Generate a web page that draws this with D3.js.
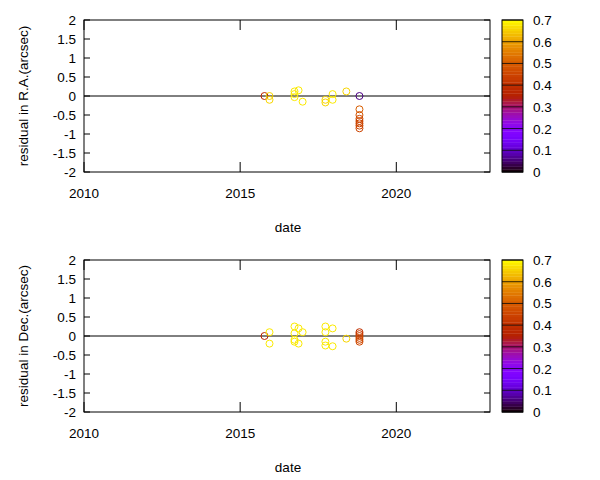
<!DOCTYPE html>
<html><head><meta charset="utf-8">
<script src="https://cdn.jsdelivr.net/npm/d3@7"></script>
<style>body{margin:0;background:#fff}text{font-family:"Liberation Sans",Arial,sans-serif;font-size:13.5px}</style>
</head><body>
<script>
// observations: decimal year, residual (arcsec), colour value
var raDates = [2015.78, 2015.94, 2015.94, 2016.74, 2016.87, 2016.74, 2016.74, 2017.0, 2017.73, 2017.73, 2017.96, 2017.96, 2018.4, 2018.82, 2018.82, 2018.82, 2018.82, 2018.82, 2018.82, 2018.82, 2018.82];
var raResid = [0, 0, -0.1, 0.12, 0.15, 0.05, -0.03, -0.15, -0.1, -0.17, 0.05, -0.1, 0.12, 0, -0.35, -0.5, -0.6, -0.66, -0.72, -0.78, -0.85];
var raColor = [0.38, 0.66, 0.66, 0.68, 0.68, 0.68, 0.68, 0.68, 0.66, 0.66, 0.68, 0.68, 0.66, 0.06, 0.5, 0.48, 0.46, 0.45, 0.45, 0.45, 0.45];

var decDates = [2015.78, 2015.94, 2015.94, 2016.74, 2016.87, 2017.0, 2016.74, 2016.74, 2016.74, 2016.87, 2017.73, 2017.73, 2017.96, 2017.73, 2017.73, 2017.96, 2018.4, 2018.82, 2018.82, 2018.82, 2018.82, 2018.82, 2018.82];
var decResid = [0, 0.1, -0.2, 0.25, 0.2, 0.1, 0.07, -0.1, -0.15, -0.2, 0.25, 0.1, 0.2, -0.15, -0.25, -0.27, -0.07, 0.1, 0.05, 0, -0.05, -0.1, -0.15];
var decColor = [0.36, 0.68, 0.68, 0.68, 0.68, 0.68, 0.68, 0.68, 0.68, 0.68, 0.68, 0.68, 0.68, 0.68, 0.68, 0.68, 0.66, 0.4, 0.42, 0.44, 0.46, 0.46, 0.46];

var xTicks = [2010, 2015, 2020];
var yTicks = [-2, -1.5, -1, -0.5, 0, 0.5, 1, 1.5, 2];
var cTicks = [0, 0.1, 0.2, 0.3, 0.4, 0.5, 0.6, 0.7];

var svg = d3.select("body").append("svg").attr("width", 600).attr("height", 480);

//gnuplot rgbformulae 7,5,15
function pal(v) {
    var t = Math.max(0, Math.min(1, v / 0.7));
    var r = Math.sqrt(t), g = t * t * t, b = Math.max(0, Math.sin(2 * Math.PI * t));
    return d3.rgb(r * 255, g * 255, b * 255).toString();
}

var x = d3.scaleLinear().domain([2010, 2023]).range([84, 490]);

function panel(top, dates, resid, cols, label) {
    var y = d3.scaleLinear().domain([-2, 2]).range([top + 152, top]);
    var g = svg.append("g");

    // zero line
    g.append("line").attr("x1", 84).attr("x2", 490).attr("y1", y(0)).attr("y2", y(0))
        .attr("stroke", "#000").attr("stroke-width", 1);

    g.selectAll("circle").data(dates).enter().append("circle")
        .attr("cx", function (d) { return x(d); })
        .attr("cy", function (d, i) { return y(resid[i]); })
        .attr("r", 3.5).attr("fill", "none")
        .attr("stroke", function (d, i) { return pal(cols[i]); });

    g.append("rect").attr("x", 84).attr("y", top).attr("width", 406).attr("height", 152)
        .attr("fill", "none").attr("stroke", "#000");

    g.selectAll(".yt").data(yTicks).enter().append("line")
        .attr("x1", 84).attr("x2", 90).attr("y1", function (d) { return y(d); }).attr("y2", function (d) { return y(d); })
        .attr("stroke", "#000");
    g.selectAll(".yt2").data(yTicks).enter().append("line")
        .attr("x1", 484).attr("x2", 490).attr("y1", function (d) { return y(d); }).attr("y2", function (d) { return y(d); })
        .attr("stroke", "#000");
    g.selectAll(".yl").data(yTicks).enter().append("text")
        .attr("x", 76).attr("y", function (d) { return y(d) + 5; }).attr("text-anchor", "end")
        .text(function (d) { return d; });

    g.selectAll(".xt").data(xTicks).enter().append("line")
        .attr("x1", function (d) { return x(d); }).attr("x2", function (d) { return x(d); })
        .attr("y1", top + 152).attr("y2", top + 142).attr("stroke", "#000");
    g.selectAll(".xt2").data(xTicks).enter().append("line")
        .attr("x1", function (d) { return x(d); }).attr("x2", function (d) { return x(d); })
        .attr("y1", top).attr("y2", top + 10).attr("stroke", "#000");
    g.selectAll(".xl").data(xTicks).enter().append("text")
        .attr("x", function (d) { return x(d); }).attr("y", top + 178).attr("text-anchor", "middle")
        .text(function (d) { return d; });

    g.append("text").attr("x", 288).attr("y", top + 212).attr("text-anchor", "middle").text("date");
    g.append("text").attr("transform", "translate(28," + (top + 76) + ") rotate(-90)")
        .attr("text-anchor", "middle").text(label);

    // colour box
    var c = d3.scaleLinear().domain([0, 0.7]).range([top + 152, top]);
    var steps = d3.range(0, 0.7, 0.7 / 56);
    g.selectAll(".cb").data(steps).enter().append("rect")
        .attr("x", 502).attr("width", 21)
        .attr("y", function (d) { return c(d + 0.7 / 56); }).attr("height", c(0) - c(0.7 / 56) + 0.3)
        .attr("fill", function (d) { return pal(d + 0.35 / 56); });
    g.append("rect").attr("x", 502).attr("y", top).attr("width", 21).attr("height", 152)
        .attr("fill", "none").attr("stroke", "#000");
    g.selectAll(".ct").data(cTicks).enter().append("line")
        .attr("x1", 502).attr("x2", 523).attr("y1", function (d) { return c(d); }).attr("y2", function (d) { return c(d); })
        .attr("stroke", "#000").attr("stroke-width", 0.8);
    g.selectAll(".cl").data(cTicks).enter().append("text")
        .attr("x", 533).attr("y", function (d) { return c(d) + 5; })
        .text(function (d) { return d; });
}

panel(20, raDates, raResid, raColor, "residual in R.A.(arcsec)");
panel(260, decDates, decResid, decColor, "residual in Dec.(arcsec)");
</script>
</body></html>
